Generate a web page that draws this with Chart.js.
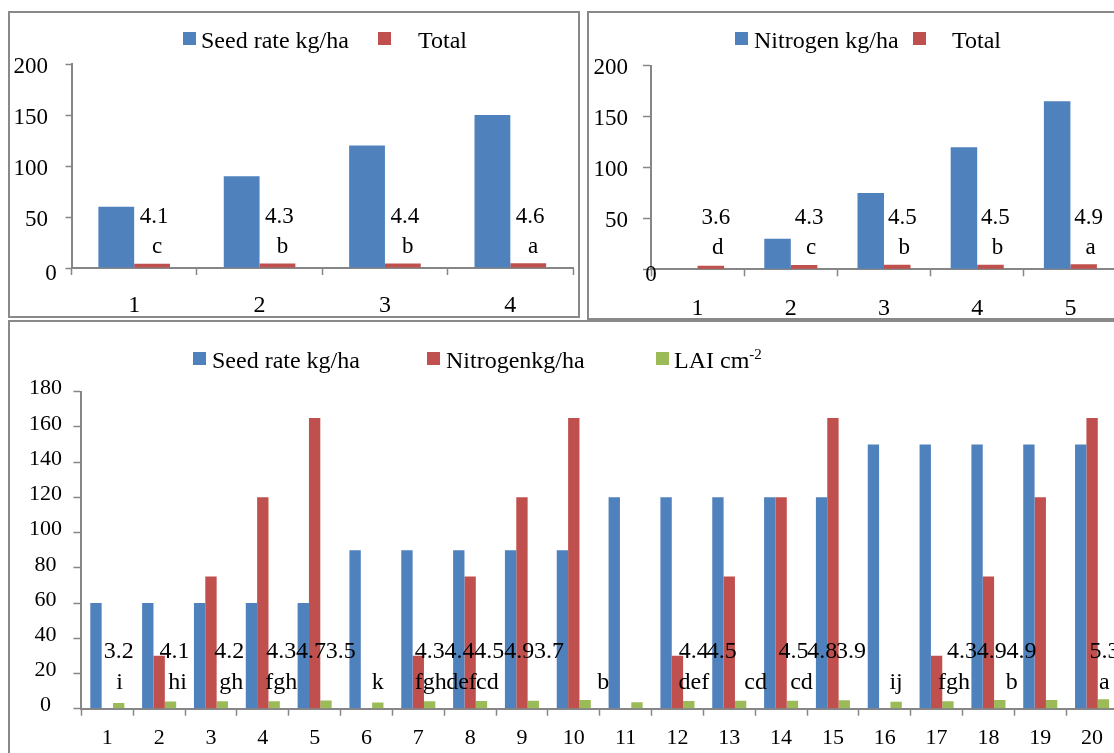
<!DOCTYPE html>
<html>
<head>
<meta charset="utf-8">
<title>Seed rate, nitrogen and LAI</title>
<script src="https://cdn.jsdelivr.net/npm/chart.js@4.4.1/dist/chart.umd.min.js"></script>
<style>
  html, body { margin: 0; padding: 0; background: #fff; overflow: hidden; }
  body { width: 1114px; height: 753px; position: relative; font-family: "Liberation Serif", "Times New Roman", serif; }
  .panel { position: absolute; box-sizing: border-box; border: 2px solid #898989; background: #fff; overflow: hidden; }
  .panel canvas { position: absolute; left: 0; top: 0; }
  .legend { position: absolute; left: 0; width: 100%; height: 30px; }
  .legend .box { position: absolute; top: 4px; width: 13px; height: 13px; }
  .legend .txt { position: absolute; top: 0; font-size: 24px; line-height: 24px; white-space: pre; color: #000; }
  .legend sup { font-size: 15px; line-height: 0; vertical-align: 9px; }
</style>
</head>
<body>

<div class="panel" style="left:8px;top:11px;width:572px;height:307px">
  <canvas id="c1" width="568" height="303"></canvas>
  <div class="legend" id="l1" style="top:15px"></div>
</div>
<div class="panel" style="left:587px;top:11px;width:545px;height:309px">
  <canvas id="c2" width="541" height="305"></canvas>
  <div class="legend" id="l2" style="top:15px"></div>
</div>
<div class="panel" style="left:8px;top:320px;width:1124px;height:450px">
  <canvas id="c3" width="1120" height="446"></canvas>
  <div class="legend" id="l3" style="top:26px"></div>
</div>

<script>
(function () {
  "use strict";

  // --- data -------------------------------------------------------------
  const seedCats = ["1", "2", "3", "4"];
  const seedRate = [60, 90, 120, 150];
  const seedTotal = [4.1, 4.3, 4.4, 4.6];
  const seedLetters = ["c", "b", "b", "a"];

  const nitroCats = ["1", "2", "3", "4", "5"];
  const nitroRate = [0, 30, 75, 120, 165];
  const nitroTotal = [3.6, 4.3, 4.5, 4.5, 4.9];
  const nitroLetters = ["d", "c", "b", "b", "a"];

  const comboCats = ["1", "2", "3", "4", "5", "6", "7", "8", "9", "10",
    "11", "12", "13", "14", "15", "16", "17", "18", "19", "20"];
  const comboSeed = [60, 60, 60, 60, 60, 90, 90, 90, 90, 90,
    120, 120, 120, 120, 120, 150, 150, 150, 150, 150];
  const comboNitro = [0, 30, 75, 120, 165, 0, 30, 75, 120, 165,
    0, 30, 75, 120, 165, 0, 30, 75, 120, 165];
  const comboLai = [3.2, 4.1, 4.2, 4.3, 4.7, 3.5, 4.3, 4.4, 4.5, 4.9,
    3.7, 4.4, 4.5, 4.5, 4.8, 3.9, 4.3, 4.9, 4.9, 5.3];
  const comboLetters = ["i", "hi", "gh", "fgh", "", "k", "fgh", "def", "cd", "b",
    "", "def", "cd", "cd", "", "ij", "fgh", "b", "", "a"];

  // label nudges (px) as the labels sit in the original figure
  const numShift = [0, 4, 7, 7, -15, -37, 0, -22, -44, -66, -88, 5, -19, 1, -22, -45, 14, -8, -30, 1];
  const letShift = [1, 7, 9, 7, 0, 0, 1, -20, -46, 18, 0, 5, 15, 9, 0, 0, 6, 12, 0, 1];

  // --- styling ----------------------------------------------------------
  const FONT = '"Liberation Serif", "Times New Roman", serif';
  const BLUE = "#4F81BD", RED = "#C0504D", GREEN = "#9BBB59", AXIS = "#868686";

  Chart.defaults.font.family = FONT;
  Chart.defaults.color = "#000";

  const pick = (a, i) => Array.isArray(a) ? (a[i] || 0) : (a || 0);

  // value + letter tags above one dataset's bars
  const tagPlugin = {
    id: "tags",
    afterDatasetsDraw(chart, args, o) {
      const ctx = chart.ctx;
      const yScale = chart.scales.y;
      const zero = yScale.getPixelForValue(0);
      const meta = chart.getDatasetMeta(o.ds);
      const vals = chart.data.datasets[o.ds].data;
      ctx.save();
      ctx.font = o.size + "px " + FONT;
      ctx.fillStyle = "#000";
      ctx.textAlign = "center";
      ctx.textBaseline = "alphabetic";
      meta.data.forEach((bar, i) => {
        ctx.fillText(vals[i].toFixed(1), bar.x + pick(o.numDx, i), zero + o.numY);
        if (o.letters[i]) ctx.fillText(o.letters[i], bar.x + pick(o.letDx, i), zero + o.letY);
      });
      if (o.zero) {
        ctx.font = o.zero.size + "px " + FONT;
        ctx.textBaseline = "middle";
        ctx.fillText("0", yScale.right + o.zero.dx, zero + o.zero.dy);
      }
      ctx.restore();
    }
  };

  // legend as html, built from the chart's datasets
  const htmlLegend = {
    id: "htmlLegend",
    afterUpdate(chart, args, o) {
      const el = document.getElementById(o.el);
      el.innerHTML = "";
      chart.data.datasets.forEach((ds, i) => {
        const sw = document.createElement("span");
        sw.className = "box";
        sw.style.background = ds.backgroundColor;
        sw.style.left = o.at[i][0] + "px";
        const tx = document.createElement("span");
        tx.className = "txt";
        tx.style.left = o.at[i][1] + "px";
        tx.innerHTML = ds.label.replace(/cm-2$/, "cm<sup>-2</sup>");
        el.append(sw, tx);
      });
    }
  };

  function yAxis(max, step, o) {
    return {
      min: 0,
      max,
      afterFit: s => { s.width = o.w; },
      border: { display: true, color: AXIS, width: 2 },
      grid: { display: true, drawOnChartArea: false, tickLength: o.tick, tickColor: AXIS, tickWidth: 1.5 },
      ticks: {
        stepSize: step,
        font: { size: o.size },
        padding: o.pad,
        labelOffset: o.lo,
        crossAlign: o.align || "near",
        callback: v => (o.hideZero && v === 0) ? "" : v,
      },
    };
  }

  function xAxis(o) {
    return {
      afterFit: s => { s.height = o.h; },
      border: { display: true, color: AXIS, width: 2 },
      grid: { display: true, drawOnChartArea: false, offset: true, tickLength: 7, tickColor: AXIS, tickWidth: 1.5 },
      ticks: { font: { size: o.size }, padding: o.pad, maxRotation: 0, autoSkip: false },
    };
  }

  function barChart(id, labels, datasets, o) {
    return new Chart(document.getElementById(id), {
      type: "bar",
      data: { labels, datasets },
      options: {
        responsive: false,
        animation: false,
        layout: { padding: o.padding },
        datasets: { bar: { categoryPercentage: o.catPct, barPercentage: 1, borderWidth: 0 } },
        plugins: {
          legend: { display: false },
          tooltip: { enabled: false },
          tags: o.tags,
          htmlLegend: o.legend,
        },
        scales: { x: o.x, y: o.y },
      },
      plugins: [tagPlugin, htmlLegend],
    });
  }

  // Seed rate
  barChart("c1", seedCats, [
    { label: "Seed rate kg/ha", data: seedRate, backgroundColor: BLUE },
    { label: "Total", data: seedTotal, backgroundColor: RED },
  ], {
    padding: { top: 51, right: 5, left: 0, bottom: 0 },
    catPct: 0.571,
    x: xAxis({ h: 48, size: 24, pad: 16.5 }),
    y: yAxis(200, 50, { w: 61.5, tick: 6, size: 23, pad: 17.5, lo: 2.5, hideZero: true }),
    tags: { ds: 1, letters: seedLetters, numY: -45.5, letY: -15, numDx: 2, letDx: 5, size: 23,
      zero: { dx: -20.5, dy: 5.5, size: 23 } },
    legend: { el: "l1", at: [[173, 191], [368, 408]] },
  });

  // Nitrogen
  barChart("c2", nitroCats, [
    { label: "Nitrogen kg/ha", data: nitroRate, backgroundColor: BLUE },
    { label: "Total", data: nitroTotal, backgroundColor: RED },
  ], {
    padding: { top: 52.7, right: 13, left: 0, bottom: 0 },
    catPct: 0.569,
    x: xAxis({ h: 48.7, size: 24, pad: 18.5 }),
    y: yAxis(200, 50, { w: 62, tick: 8, size: 23, pad: 15, lo: 2.5, hideZero: true }),
    tags: { ds: 1, letters: nitroLetters, numY: -45.3, letY: -15.3, numDx: 5, letDx: 7, size: 23,
      zero: { dx: 0, dy: 5.7, size: 23 } },
    legend: { el: "l2", at: [[146, 165], [324, 363]] },
  });

  // Seed rate x nitrogen, LAI
  barChart("c3", comboCats, [
    { label: "Seed rate kg/ha", data: comboSeed, backgroundColor: BLUE },
    { label: "Nitrogenkg/ha", data: comboNitro, backgroundColor: RED },
    { label: "LAI cm-2", data: comboLai, backgroundColor: GREEN },
  ], {
    padding: { top: 69.7, right: 12, left: 0, bottom: 0 },
    catPct: 0.657,
    x: xAxis({ h: 59.3, size: 22, pad: 9.5 }),
    y: yAxis(180, 20, { w: 71.4, tick: 8, size: 22, pad: 11.5, lo: -3, align: "center" }),
    tags: { ds: 2, letters: comboLetters, numY: -51, letY: -20, numDx: numShift, letDx: letShift, size: 24 },
    legend: { el: "l3", at: [[183, 202], [417, 436], [646, 664]] },
  });
})();
</script>
</body>
</html>
